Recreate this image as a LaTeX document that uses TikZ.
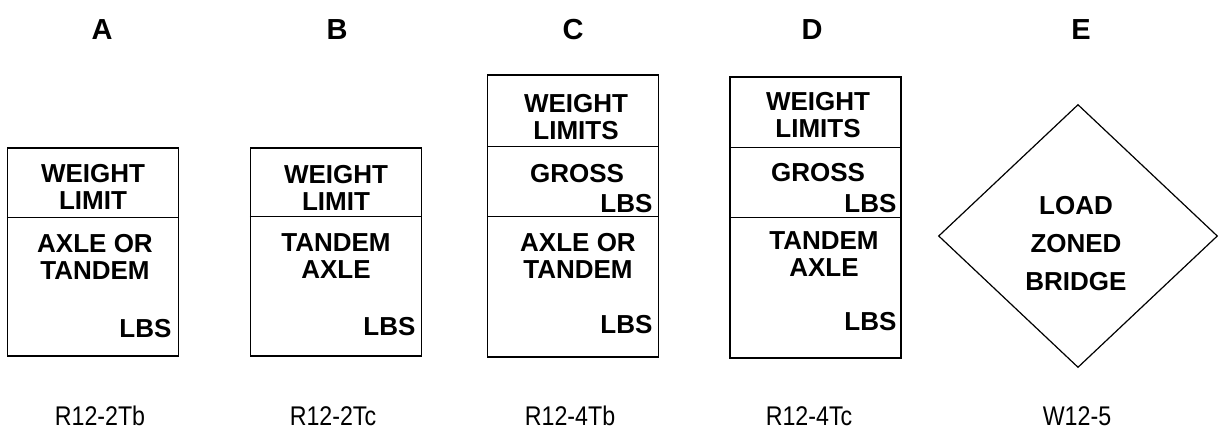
\documentclass[tikz,border=0pt]{standalone}
\usepackage{fontspec}
\setmainfont{Liberation Sans}
\newfontfamily\codefont[FakeStretch=0.86]{Liberation Sans}
\usepackage{tikz}
\usetikzlibrary{positioning,shapes.geometric}

\begin{document}
\begin{tikzpicture}[x=1pt, y=-1pt, line width=1.2pt,
    panel/.style={rectangle, draw, minimum width=171pt, inner sep=0pt},
    signtext/.style={font=\fontsize{26}{27}\selectfont\bfseries, align=center, inner sep=0pt},
    lbs/.style={font=\fontsize{26}{27}\selectfont\bfseries, inner sep=0pt, anchor=base east},
    letter/.style={font=\fontsize{29}{30}\selectfont\bfseries, inner sep=0pt},
    code/.style={font=\fontsize{27}{28}\selectfont\codefont, inner sep=0pt, anchor=base}]
    \useasboundingbox (0, 0) rectangle (1227, 445);

    \node[letter] at (102, 30) (la) {A};
    \node[letter] at (337, 30) (lb) {B};
    \node[letter] at (573, 30) (lc) {C};
    \node[letter] at (812, 30) (ld) {D};
    \node[letter] at (1081, 30) (le) {E};

    \node[panel, minimum height=208pt] at (93, 252) (signA) {};
    \node[panel, minimum height=208pt] at (336, 252) (signB) {};
    \node[panel, minimum height=282pt] at (573, 216) (signC) {};
    \node[panel, minimum height=281pt] at (815.5, 217.5) (signD) {};
    \node[diamond, draw, minimum width=279pt, minimum height=263pt, inner sep=0pt] at (1078, 236) (signE) {};

    \draw ([yshift=-70pt]signA.north west) -- ([yshift=-70pt]signA.north east);
    \draw ([yshift=-69pt]signB.north west) -- ([yshift=-69pt]signB.north east);
    \draw ([yshift=-72pt]signC.north west) -- ([yshift=-72pt]signC.north east);
    \draw ([yshift=-142pt]signC.north west) -- ([yshift=-142pt]signC.north east);
    \draw ([yshift=-71pt]signD.north west) -- ([yshift=-71pt]signD.north east);
    \draw ([yshift=-141pt]signD.north west) -- ([yshift=-141pt]signD.north east);

    \node[signtext] at (93, 187) (a1) {WEIGHT\\LIMIT};
    \node[signtext] at (95, 257) (a2) {AXLE OR\\TANDEM};
    \node[lbs] at (172, 337) (a3) {LBS};

    \node[signtext] at (336, 188) (b1) {WEIGHT\\LIMIT};
    \node[signtext] at (336, 256) (b2) {TANDEM\\AXLE};
    \node[lbs] at (416, 335) (b3) {LBS};

    \node[signtext] at (576, 117) (c1) {WEIGHT\\LIMITS};
    \node[signtext] at (577, 174) (c2) {GROSS};
    \node[lbs] at (653, 212) (c3) {LBS};
    \node[signtext] at (578, 256) (c4) {AXLE OR\\TANDEM};
    \node[lbs] at (653, 333) (c5) {LBS};

    \node[signtext] at (818, 115) (d1) {WEIGHT\\LIMITS};
    \node[signtext] at (818, 173) (d2) {GROSS};
    \node[lbs] at (897, 212) (d3) {LBS};
    \node[signtext] at (824, 254) (d4) {TANDEM\\AXLE};
    \node[lbs] at (897, 330) (d5) {LBS};

    \node[signtext, font=\fontsize{26}{38}\selectfont\bfseries] at (1076, 244) (e1) {LOAD\\ZONED\\BRIDGE};

    \node[code] at (100, 425) (ca) {R12-2Tb};
    \node[code] at (333, 425) (cb) {R12-2Tc};
    \node[code] at (570, 425) (cc) {R12-4Tb};
    \node[code] at (809, 425) (cd) {R12-4Tc};
    \node[code] at (1077, 425) (ce) {W12-5};
\end{tikzpicture}
\end{document}
